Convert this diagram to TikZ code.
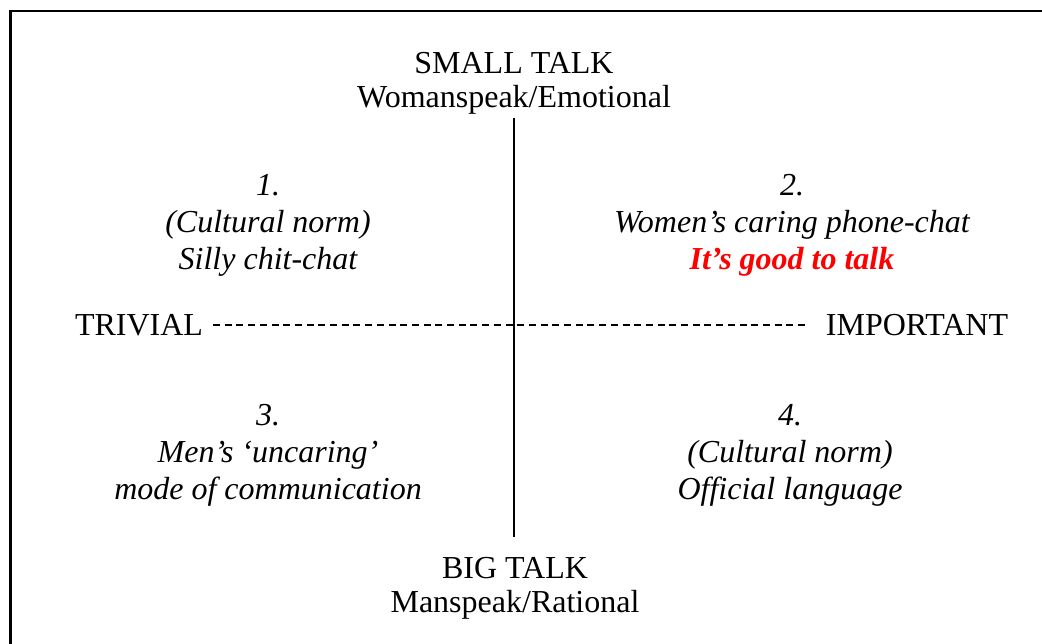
\documentclass[tikz,border=0pt]{standalone}
\usepackage{fontspec}
\setmainfont{Liberation Serif}
\begin{document}
\begin{tikzpicture}[x=1pt,y=-1pt,
  lbl/.style={anchor=base,inner sep=0pt,font=\fontsize{32}{36}\selectfont},
  quad/.style={anchor=base,inner sep=0pt,font=\fontsize{32}{36}\selectfont\itshape},
  axis/.style={line width=1.6pt},
  dashaxis/.style={line width=1.6pt,dash pattern=on 7pt off 4.7pt}]
  \useasboundingbox (0,0) rectangle (1042,644);
  % outer frame (runs off the page to the right and bottom)
  \draw[line width=2.2pt] (10.5,650) -- (10.5,11) -- (1050,11);

  % vertical axis labels
  \node[lbl] (small) at (514,74) {SMALL TALK};
  \node[lbl] (woman) at (514,108) {Womanspeak/Emotional};
  \node[lbl] (big) at (515,578) {BIG TALK};
  \node[lbl] (man) at (515,612) {Manspeak/Rational};

  % horizontal axis labels
  \node[lbl] (trivial) at (139,336) {TRIVIAL};
  \node[lbl] (important) at (917,336) {IMPORTANT};

  % axes
  \coordinate (vtop) at (514,118);
  \coordinate (vbot) at (514,537);
  \coordinate (hl) at (213,325);
  \coordinate (hr) at (808,325);
  \draw[axis] (vtop) -- (vbot);
  \draw[dashaxis] (hl) -- (hr);

  % quadrant 1
  \node[quad] (q1a) at (268,196) {1.};
  \node[quad] (q1b) at (268,233) {(Cultural norm)};
  \node[quad] (q1c) at (268,270) {Silly chit-chat};
  % quadrant 2
  \node[quad] (q2a) at (792,196) {2.};
  \node[quad] (q2b) at (792,233) {Women’s caring phone-chat};
  \node[quad,font=\fontsize{32}{36}\selectfont\itshape\bfseries,text=red] (q2c) at (792,270) {It’s good to talk};
  % quadrant 3
  \node[quad] (q3a) at (268,425) {3.};
  \node[quad] (q3b) at (268,462) {Men’s ‘uncaring’};
  \node[quad] (q3c) at (268,499) {mode of communication};
  % quadrant 4
  \node[quad] (q4a) at (790,425) {4.};
  \node[quad] (q4b) at (790,462) {(Cultural norm)};
  \node[quad] (q4c) at (790,499) {Official language};
\end{tikzpicture}
\end{document}
